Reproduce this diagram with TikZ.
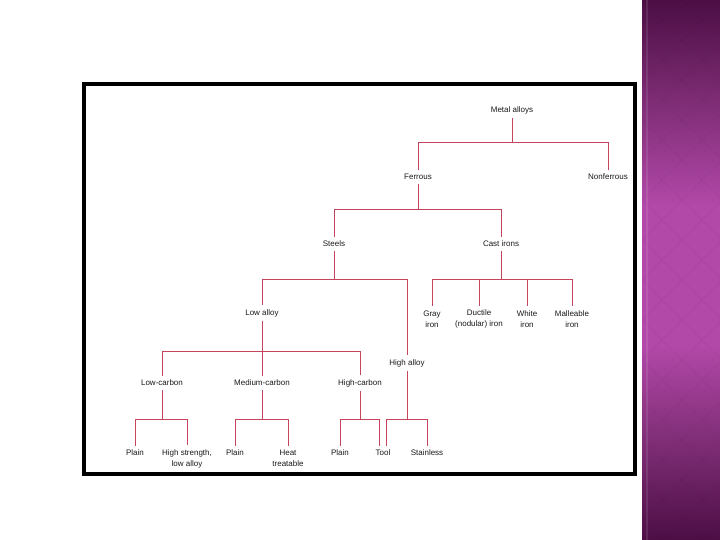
\documentclass[tikz,border=0pt]{standalone}
\usepackage{fontspec}
\setmainfont{Liberation Sans}
\definecolor{alloyred}{HTML}{C4445C}
\definecolor{alloytext}{HTML}{1A1A1A}
\definecolor{stripdark}{HTML}{4C0E45}
\definecolor{striphalf}{HTML}{7C2C73}
\definecolor{stripmid}{HTML}{B248A8}
\pgfdeclareverticalshading{stripshade}{100bp}{color(0bp)=(stripdark); color(25bp)=(stripdark); color(33.5bp)=(striphalf); color(43bp)=(stripmid); color(56bp)=(stripmid); color(66bp)=(striphalf); color(75bp)=(stripdark); color(100bp)=(stripdark)}

\begin{document}
\begin{tikzpicture}[
  x=1pt, y=-1pt,
  item/.style={font=\fontsize{8}{11}\selectfont, text=alloytext, align=center, inner sep=4pt},
  link/.style={draw=alloyred, line width=1pt},
]
\useasboundingbox (0,0) rectangle (720,540);
\fill[white] (0,0) rectangle (720,540);

% purple side strip
\shade[shading=stripshade] (642,0) rectangle (720,540);
\begin{scope}
  \clip (642,0) rectangle (720,540);
  \foreach \c in {-120,-80,...,720} {
    \draw[black, opacity=0.03, line width=1pt] (642,\c) -- ++(80,80);
    \draw[black, opacity=0.03, line width=1pt] (642,\c+80) -- ++(80,-80);
  }
\end{scope}
\draw[white, opacity=0.1, line width=2pt] (647,0) -- (647,540);

% frame
\draw[line width=4pt] (84,84) rectangle (635,474);

% nodes
\node[item] (metal) at (512,110) {Metal alloys};
\node[item] (ferrous) at (418,177) {Ferrous};
\node[item] (nonferrous) at (608,177) {Nonferrous};
\node[item] (steels) at (334,244) {Steels};
\node[item] (cast) at (501,244) {Cast irons};
\node[item] (low) at (262,313) {Low alloy};
\node[item] (high) at (407,363) {High alloy};
\node[item] (gray) at (432,319) {Gray\\iron};
\node[item] (ductile) at (479,319) {Ductile\\(nodular) iron};
\node[item] (white) at (527,319) {White\\iron};
\node[item] (malleable) at (572,319) {Malleable\\iron};
\node[item] (lowc) at (162,383) {Low-carbon};
\node[item] (medc) at (262,383) {Medium-carbon};
\node[item] (highc) at (360,383) {High-carbon};
\node[item] (plainl) at (135,453) {Plain};
\node[item] (hsla) at (187,458.5) {High strength,\\low alloy};
\node[item] (plainm) at (235,453) {Plain};
\node[item] (heat) at (288,458.5) {Heat\\treatable};
\node[item] (plainh) at (340,453) {Plain};
\node[item] (tool) at (383,453) {Tool};
\node[item] (stainless) at (427,453) {Stainless};

% junctions
\coordinate (jmetal) at (512,143);
\coordinate (jferrous) at (418,210);
\coordinate (jsteels) at (334,279);
\coordinate (jcast) at (501,279);
\coordinate (jlow) at (262,351);
\coordinate (jlowc) at (162,419);
\coordinate (jmedc) at (262,419);
\coordinate (jhighc) at (360,419);
\coordinate (jhigh) at (407,419);

% connectors
\draw[link] (metal) -- (jmetal) -| (ferrous);
\draw[link] (jmetal) -| (nonferrous);
\draw[link] (ferrous) -- (jferrous) -| (steels);
\draw[link] (jferrous) -| (cast);
\draw[link] (steels) -- (jsteels) -| (low);
\draw[link] (jsteels) -| (high);
\draw[link] (cast) -- (jcast) -| (gray);
\draw[link] (jcast) -| (ductile);
\draw[link] (jcast) -| (white);
\draw[link] (jcast) -| (malleable);
\draw[link] (low) -- (jlow) -| (lowc);
\draw[link] (jlow) -- (medc);
\draw[link] (jlow) -| (highc);
\draw[link] (lowc) -- (jlowc) -| (plainl);
\draw[link] (jlowc) -| (hsla);
\draw[link] (medc) -- (jmedc) -| (plainm);
\draw[link] (jmedc) -| (heat);
\draw[link] (highc) -- (jhighc) -| (plainh);
\draw[link] (jhighc) -| ([xshift=-3.5pt]tool.north);
\draw[link] (high) -- (jhigh) -| ([xshift=3.5pt]tool.north);
\draw[link] (jhigh) -| (stainless);
\end{tikzpicture}
\end{document}
